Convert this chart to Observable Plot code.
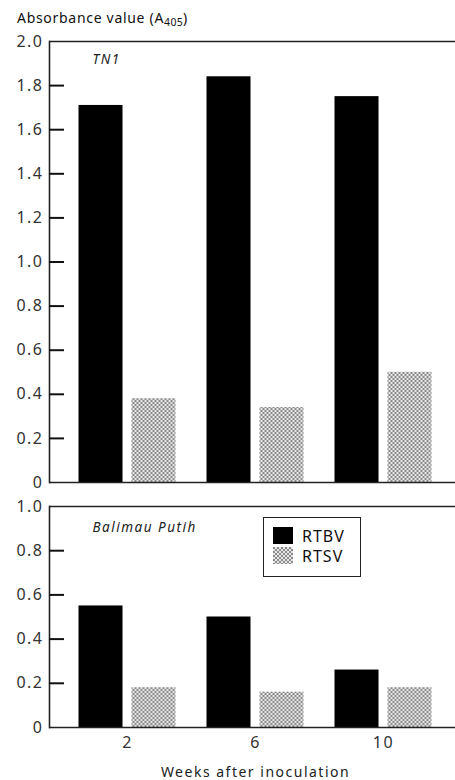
<!DOCTYPE html>
<html>
<head>
<meta charset="utf-8">
<script src="https://cdn.jsdelivr.net/npm/d3@7"></script>
<script src="https://cdn.jsdelivr.net/npm/@observablehq/plot@0.6"></script>
<style>
  body { margin: 0; background: #fff; font-family: "Noto Sans", sans-serif; color: #111; }
  #wrap { position: relative; width: 455px; height: 780px; overflow: hidden; background: #fff; }
  #title { position: absolute; left: 17px; top: 9px; font-size: 14px; letter-spacing: 0.7px; white-space: nowrap; line-height: 18px; }
  #title sub { font-size: 10.5px; vertical-align: -3px; letter-spacing: 0.3px; }
  .pl { position: absolute; left: 0; }
  .pl text { letter-spacing: 1.5px; }
  .pl text.nm { letter-spacing: 0.6px; }
  #legend { position: absolute; left: 263px; top: 517px; width: 96px; height: 58px; border: 1.5px solid #222; }
  #legend .sw { position: absolute; left: 9px; width: 20px; height: 17px; }
  #legend .lb { position: absolute; left: 38px; font-size: 16px; letter-spacing: 1px; line-height: 18px; }
</style>
</head>
<body>
<svg width="0" height="0" style="position:absolute">
  <defs>
    <pattern id="dots" width="4" height="4" patternUnits="userSpaceOnUse">
      <rect width="4" height="4" fill="#e8e8e8"></rect>
      <rect width="2" height="2" fill="#8a8a8a"></rect>
      <rect x="2" y="2" width="2" height="2" fill="#8a8a8a"></rect>
    </pattern>
  </defs>
</svg>
<div id="wrap">
  <div id="title"></div>
</div>
<script>
// ---- data ----
const weeks = ["2", "6", "10"];
const series = ["RTBV", "RTSV"];
const tn1RTBV = [1.71, 1.84, 1.75];
const tn1RTSV = [0.38, 0.34, 0.50];
const balimauRTBV = [0.55, 0.50, 0.26];
const balimauRTSV = [0.18, 0.16, 0.18];
const topTicks = [0, 0.2, 0.4, 0.6, 0.8, 1.0, 1.2, 1.4, 1.6, 1.8, 2.0];
const bottomTicks = [0, 0.2, 0.4, 0.6, 0.8, 1.0];
const panelNames = ["TN1", "Balimau Putih"];
const yTitle = "Absorbance value (A";
const yTitleSub = "405";
const xLabel = "Weeks after inoculation";

function rows(a, b) {
  return weeks.flatMap((w, i) => [
    {week: w, series: series[0], value: a[i]},
    {week: w, series: series[1], value: b[i]}
  ]);
}

const fmt = d => d === 0 ? "0" : d.toFixed(1);
const ink = "#222";
const W = 455, ML = 49, TICK = 15;

function panel({data, ticks, name, height, marginTop, marginBottom, nameDy, showX}) {
  const yMax = ticks[ticks.length - 1];
  const inner = ticks.slice(1, ticks.length - 1);
  const marks = [
    Plot.barY(data.filter(d => d.series === series[0]), {x: "week", y: "value", fill: "black", dx: -26.5, insetLeft: 42, insetRight: 42}),
    Plot.barY(data.filter(d => d.series === series[1]), {x: "week", y: "value", fill: "url(#dots)", dx: 26.5, insetLeft: 42, insetRight: 42}),
    Plot.ruleY([0], {stroke: ink, strokeWidth: 1.6}),
    Plot.ruleY([yMax], {stroke: ink, strokeWidth: 1.6}),
    Plot.frame({anchor: "left", stroke: ink, strokeWidth: 1.6}),
    Plot.tickY(inner, {y: d => d, stroke: "#111", strokeWidth: 2, insetRight: W - ML - TICK}),
    Plot.axisY(ticks, {tickSize: 0, tickPadding: 6, tickFormat: fmt, fontSize: 16, fill: "#333", label: null}),
    Plot.text([name], {frameAnchor: "top-left", dx: 43, dy: nameDy, lineAnchor: "middle", textAnchor: "start", fontStyle: "italic", fontSize: 13.5, fill: "#222", className: "nm"})
  ];
  if (showX) {
    marks.push(Plot.axisX({tickSize: 0, tickPadding: 9, fontSize: 16, fill: "#333", label: null}));
    marks.push(Plot.text([xLabel], {frameAnchor: "bottom", dx: 3, dy: 49, lineAnchor: "bottom", fontSize: 14, fill: "#222", className: "nm"}));
  }
  return Plot.plot({
    width: W,
    height,
    marginLeft: ML,
    marginRight: 0,
    marginTop,
    marginBottom,
    style: {fontFamily: "Noto Sans", background: "transparent", overflow: "visible"},
    x: {type: "band", domain: weeks, range: [63, 447], padding: 0, axis: showX ? undefined : null, label: null},
    y: {domain: [0, yMax], label: null},
    marks
  });
}

const wrap = document.getElementById("wrap");
const title = document.getElementById("title");
title.append(yTitle);
const sub = document.createElement("sub");
sub.textContent = yTitleSub;
title.append(sub, ")");

const top1 = panel({data: rows(tn1RTBV, tn1RTSV), ticks: topTicks, name: panelNames[0], height: 492, marginTop: 41, marginBottom: 10, nameDy: 18, showX: false});
top1.classList.add("pl");
top1.style.top = "0px";
wrap.append(top1);

const bot = panel({data: rows(balimauRTBV, balimauRTSV), ticks: bottomTicks, name: panelNames[1], height: 285, marginTop: 11, marginBottom: 53, nameDy: 21, showX: true});
bot.classList.add("pl");
bot.style.top = "495px";
wrap.append(bot);

// legend
const legend = document.createElement("div");
legend.id = "legend";
const fills = ["black", "url(#dots)"];
series.forEach((s, i) => {
  const sw = document.createElementNS("http://www.w3.org/2000/svg", "svg");
  sw.setAttribute("class", "sw");
  sw.setAttribute("width", 20);
  sw.setAttribute("height", 17);
  sw.style.top = (9 + i * 20) + "px";
  const r = document.createElementNS("http://www.w3.org/2000/svg", "rect");
  r.setAttribute("width", 20);
  r.setAttribute("height", 17);
  r.setAttribute("fill", fills[i]);
  sw.append(r);
  const lb = document.createElement("div");
  lb.className = "lb";
  lb.style.top = (9 + i * 20) + "px";
  lb.textContent = s;
  legend.append(sw, lb);
});
wrap.append(legend);
</script>
</body>
</html>
